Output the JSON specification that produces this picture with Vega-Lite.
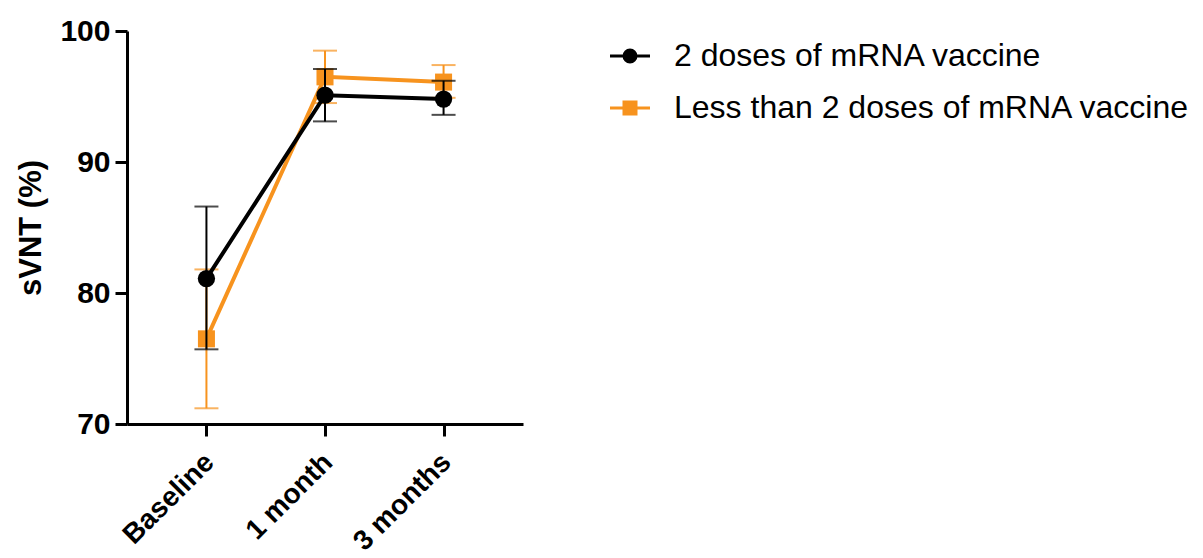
{
  "$schema": "https://vega.github.io/schema/vega-lite/v6.json",
  "width": 396,
  "height": 393,
  "autosize": "none",
  "padding": {"left": 127, "top": 31, "right": 680, "bottom": 134},
  "background": "white",
  "config": {
    "view": {"stroke": null},
    "font": "Liberation Sans",
    "axis": {"grid": false, "domainColor": "black", "domainWidth": 3, "tickColor": "black", "tickWidth": 3, "tickSize": 12, "labelColor": "black", "labelFont": "Liberation Sans", "labelFontWeight": "bold", "titleFont": "Liberation Sans", "titleFontWeight": "bold", "titleColor": "black"}
  },
  "data": {
    "values": [
      {"group": "Less than 2 doses of mRNA vaccine", "time": "Baseline", "mean": 76.5, "lo": 71.2, "hi": 81.8},
      {"group": "Less than 2 doses of mRNA vaccine", "time": "1 month", "mean": 96.5, "lo": 94.5, "hi": 98.5},
      {"group": "Less than 2 doses of mRNA vaccine", "time": "3 months", "mean": 96.1, "lo": 94.9, "hi": 97.4},
      {"group": "2 doses of mRNA vaccine", "time": "Baseline", "mean": 81.1, "lo": 75.7, "hi": 86.6},
      {"group": "2 doses of mRNA vaccine", "time": "1 month", "mean": 95.1, "lo": 93.1, "hi": 97.1},
      {"group": "2 doses of mRNA vaccine", "time": "3 months", "mean": 94.8, "lo": 93.6, "hi": 96.2}
    ]
  },
  "encoding": {
    "x": {"field": "time", "type": "nominal", "sort": ["Baseline", "1 month", "3 months"], "scale": {"type": "point", "padding": 0.67},
      "axis": {"title": null, "labelAngle": -45, "labelFontSize": 28, "labelPadding": 12, "labelOffset": -7, "labelAlign": "right", "labelBaseline": "top", "labelLimit": 0}},
    "y": {"field": "mean", "type": "quantitative", "scale": {"domain": [70, 100], "nice": false, "zero": false},
      "axis": {"title": "sVNT (%)", "values": [70, 80, 90, 100], "labelFontSize": 30, "labelPadding": 5, "titleFontSize": 31, "titlePadding": 12}}
  },
  "layer": [
    {
      "transform": [{"filter": "datum.group === 'Less than 2 doses of mRNA vaccine'"}],
      "layer": [
        {"mark": {"type": "line", "strokeWidth": 4, "color": "#F7931E"}, "encoding": {}},
        {"mark": {"type": "rule", "strokeWidth": 2, "color": "#F7931E"}, "encoding": {"y": {"field": "lo", "type": "quantitative"}, "y2": {"field": "hi"}}},
        {"mark": {"type": "tick", "size": 24, "thickness": 2, "color": "#F7931E"}, "encoding": {"y": {"field": "lo", "type": "quantitative"}}},
        {"mark": {"type": "tick", "size": 24, "thickness": 2, "color": "#F7931E"}, "encoding": {"y": {"field": "hi", "type": "quantitative"}}},
        {"mark": {"type": "point", "shape": "square", "filled": true, "opacity": 1, "size": 290, "color": "#F7931E"}, "encoding": {}}
      ]
    },
    {
      "transform": [{"filter": "datum.group === '2 doses of mRNA vaccine'"}],
      "layer": [
        {"mark": {"type": "line", "strokeWidth": 4, "color": "black"}, "encoding": {}},
        {"mark": {"type": "rule", "strokeWidth": 2, "color": "black"}, "encoding": {"y": {"field": "lo", "type": "quantitative"}, "y2": {"field": "hi"}}},
        {"mark": {"type": "tick", "size": 24, "thickness": 2, "color": "black"}, "encoding": {"y": {"field": "lo", "type": "quantitative"}}},
        {"mark": {"type": "tick", "size": 24, "thickness": 2, "color": "black"}, "encoding": {"y": {"field": "hi", "type": "quantitative"}}},
        {"mark": {"type": "point", "shape": "circle", "filled": true, "opacity": 1, "size": 300, "color": "black"}, "encoding": {}}
      ]
    },
    {
      "transform": [{"filter": "false"}],
      "mark": {"type": "point", "filled": true, "opacity": 1, "strokeWidth": 3},
      "encoding": {
        "fill": {"field": "group", "type": "nominal", "scale": {"domain": ["2 doses of mRNA vaccine", "Less than 2 doses of mRNA vaccine"], "range": ["black", "#F7931E"]},
          "legend": {"title": null, "orient": "none", "legendX": 487, "legendY": 9, "labelFontSize": 32, "labelFont": "Liberation Sans", "labelColor": "black", "labelOffset": 28, "labelLimit": 0, "rowPadding": 20, "symbolSize": 400, "symbolStrokeWidth": 3}},
        "stroke": {"field": "group", "type": "nominal", "scale": {"domain": ["2 doses of mRNA vaccine", "Less than 2 doses of mRNA vaccine"], "range": ["black", "#F7931E"]},
          "legend": {"title": null, "orient": "none", "legendX": 487, "legendY": 9, "labelFontSize": 32, "labelFont": "Liberation Sans", "labelColor": "black", "labelOffset": 28, "labelLimit": 0, "rowPadding": 20, "symbolSize": 400, "symbolStrokeWidth": 3}},
        "shape": {"field": "group", "type": "nominal", "scale": {"domain": ["2 doses of mRNA vaccine", "Less than 2 doses of mRNA vaccine"], "range": ["M-2,0H2M0.6,0A0.6,0.6 0 1,1 -0.6,0A0.6,0.6 0 1,1 0.6,0Z", "M-2,0H2M-0.6,-0.6H0.6V0.6H-0.6Z"]},
          "legend": {"title": null, "orient": "none", "legendX": 487, "legendY": 9, "labelFontSize": 32, "labelFont": "Liberation Sans", "labelColor": "black", "labelOffset": 28, "labelLimit": 0, "rowPadding": 20, "symbolSize": 400, "symbolStrokeWidth": 3}}
      }
    }
  ]
}
